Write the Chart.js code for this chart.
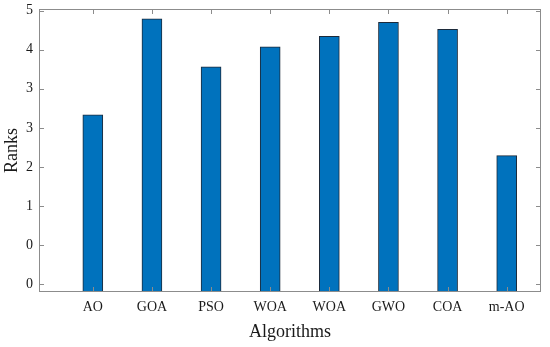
<!DOCTYPE html>
<html>
<head>
<meta charset="utf-8">
<script src="https://cdn.jsdelivr.net/npm/chart.js@4"></script>
<style>
  html, body { margin: 0; padding: 0; background: #fff; }
  #wrap { width: 550px; height: 347px; }
</style>
</head>
<body>
<div id="wrap"><canvas id="ranks-chart"></canvas></div>
<script>
  // Categories along the x axis
  const algorithms = ["AO", "GOA", "PSO", "WOA", "WOA", "GWO", "COA", "m-AO"];
  // Bar heights, in units of the y tick positions (tick 0 .. tick 7)
  const ranks = [4.33, 6.79, 5.56, 6.07, 6.34, 6.70, 6.52, 3.29];
  // Labels printed at the y ticks, bottom to top
  const rankTickLabels = ["0", "0", "1", "2", "3", "3", "4", "5"];

  const axisGray = "#8c8c8c";
  const serif = "'Liberation Serif', 'DejaVu Serif', serif";

  // Box around the plot with inward tick marks (MATLAB style)
  const boxTicks = {
    id: "boxTicks",
    afterDraw(chart) {
      const { ctx, chartArea: a, scales } = chart;
      ctx.save();
      ctx.strokeStyle = axisGray;
      ctx.lineWidth = 1;
      ctx.strokeRect(a.left + 0.5, a.top + 0.5, a.right - a.left - 1, a.bottom - a.top - 1);
      ctx.beginPath();
      scales.x.ticks.forEach((t) => {
        const px = Math.round(scales.x.getPixelForValue(t.value)) + 0.5;
        ctx.moveTo(px, a.bottom); ctx.lineTo(px, a.bottom - 5);
        ctx.moveTo(px, a.top); ctx.lineTo(px, a.top + 5);
      });
      scales.y.ticks.forEach((t) => {
        const py = Math.round(scales.y.getPixelForValue(t.value)) + 0.5;
        ctx.moveTo(a.left, py); ctx.lineTo(a.left + 5, py);
        ctx.moveTo(a.right, py); ctx.lineTo(a.right - 5, py);
      });
      ctx.stroke();
      ctx.restore();
    },
  };

  const createChart = (ctx) => {
    return new Chart(ctx, {
      type: "bar",
      data: {
        datasets: [
          {
            data: ranks.map((v, i) => ({ x: i, y: v })),
            base: -0.2,
            backgroundColor: "#0072bd",
            borderColor: "#1c2a3a",
            borderWidth: 1,
            borderSkipped: false,
            barThickness: 20,
          },
        ],
      },
      options: {
        responsive: true,
        maintainAspectRatio: false,
        animation: false,
        layout: { padding: { left: 0, top: 9, right: 9, bottom: 0 } },
        plugins: { legend: { display: false }, tooltip: { enabled: false } },
        scales: {
          x: {
            type: "linear",
            offset: false,
            min: -0.91,
            max: 7.58,
            afterBuildTicks: (s) => { s.ticks = algorithms.map((_, i) => ({ value: i })); },
            afterFit: (s) => { s.height = 55; s.paddingLeft = 0; s.paddingRight = 0; },
            grid: { display: false, drawTicks: false },
            border: { display: false },
            ticks: {
              autoSkip: false,
              maxRotation: 0,
              padding: 7,
              color: "#1a1a1a",
              font: { family: serif, size: 14 },
              callback: (v) => algorithms[v],
            },
            title: {
              display: true,
              text: "Algorithms",
              color: "#1a1a1a",
              font: { family: serif, size: 18 },
              padding: { top: 4, bottom: 4 },
            },
          },
          y: {
            min: -0.2,
            max: 7.04,
            afterBuildTicks: (s) => { s.ticks = rankTickLabels.map((_, i) => ({ value: i })); },
            afterFit: (s) => { s.width = 39; s.paddingTop = 0; s.paddingBottom = 0; },
            grid: { display: false, drawTicks: false },
            border: { display: false },
            ticks: {
              padding: 6,
              color: "#1a1a1a",
              font: { family: serif, size: 14 },
              callback: (v) => rankTickLabels[v],
            },
            title: {
              display: true,
              text: "Ranks",
              color: "#1a1a1a",
              font: { family: serif, size: 18 },
              padding: { top: 1, bottom: 1 },
            },
          },
        },
      },
      plugins: [boxTicks],
    });
  };

  document.addEventListener("DOMContentLoaded", () => {
    const ctx = document.getElementById("ranks-chart").getContext("2d");
    createChart(ctx);
  });
</script>
</body>
</html>
